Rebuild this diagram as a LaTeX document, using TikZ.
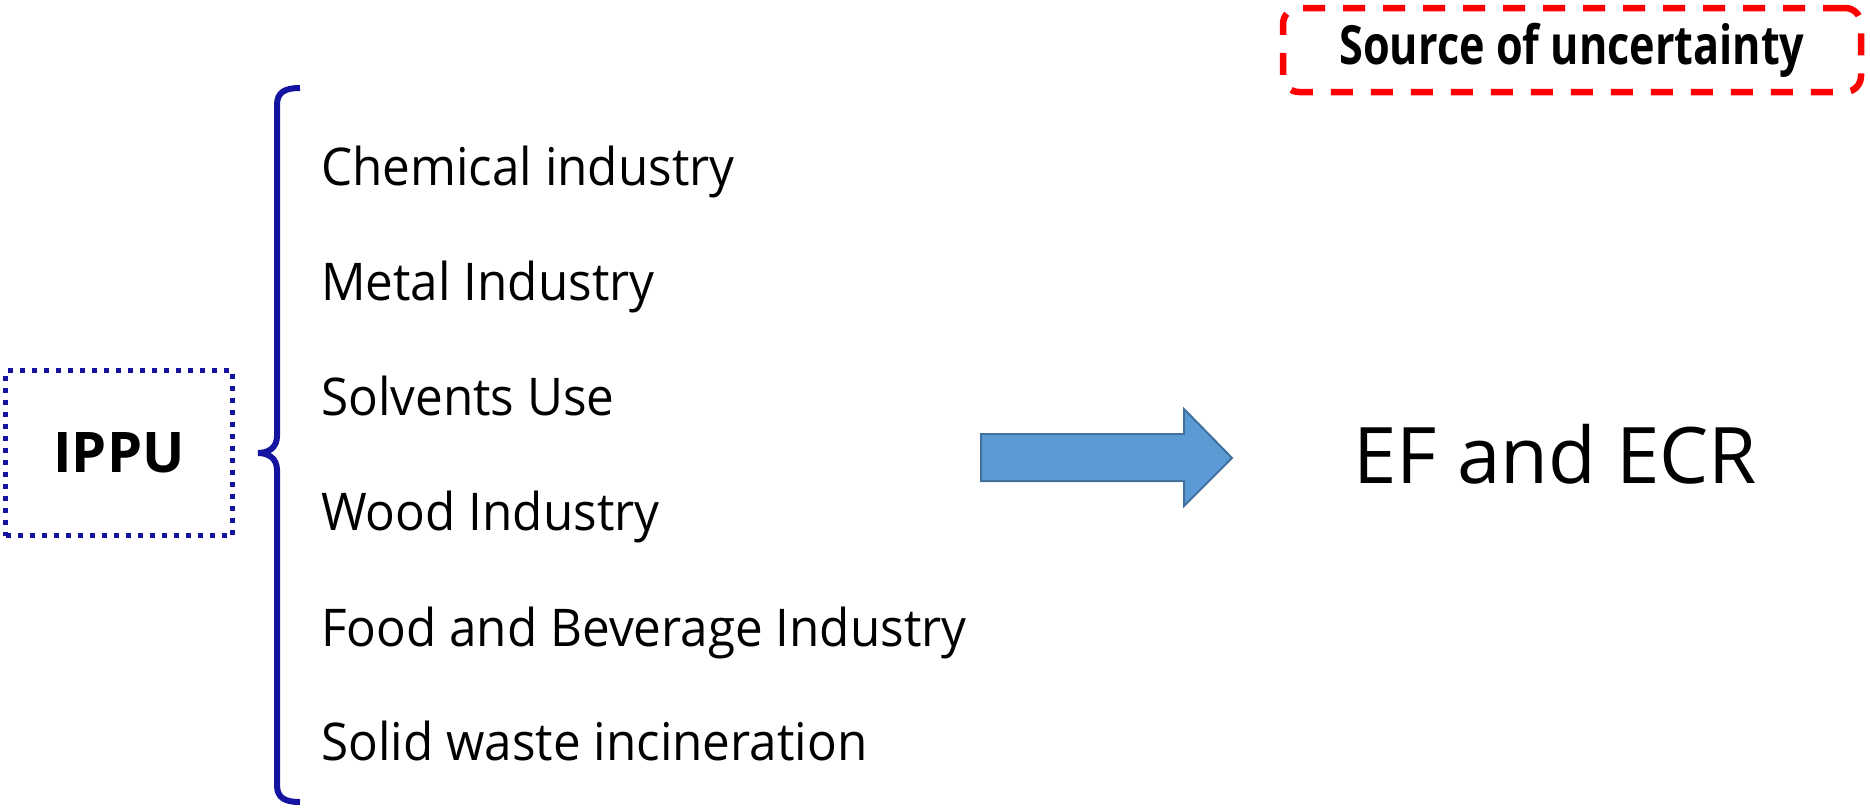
\documentclass[tikz,border=0pt]{standalone}
\usepackage{fontspec}
\setmainfont{Open Sans}
\newfontfamily\itemfont[FakeStretch=0.95]{Open Sans}
\newfontfamily\tagfont[FakeStretch=0.8]{Open Sans}
\definecolor{navy}{RGB}{20,20,160}
\definecolor{arrowfill}{RGB}{91,155,213}
\definecolor{arrowline}{RGB}{65,113,156}
\tikzset{item/.style={anchor=base west,inner sep=0pt,font=\itemfont\fontsize{52}{60}\selectfont}}
\begin{document}
\begin{tikzpicture}[x=1pt,y=-1pt]
\useasboundingbox (0,0) rectangle (1870,807);
\node[draw=navy,line width=5pt,dash pattern=on 5pt off 7pt,minimum width=227pt,minimum height=165pt,font=\bfseries\fontsize{56}{64}\selectfont](ippu) at (119,453){IPPU};
\draw[navy,line width=6pt](300,88) .. controls (285,88) and (277,92) .. (277,105)--(277,436) .. controls (277,448) and (268,453) .. (258,453) .. controls (268,453) and (277,458) .. (277,470)--(277,785) .. controls (277,798) and (285,802) .. (300,802);
\node[item](chem) at (321,185){Chemical industry};
\node[item](metal) at (321,300){Metal Industry};
\node[item](solv) at (321,415){Solvents Use};
\node[item](wood) at (321,530){Wood Industry};
\node[item](food) at (321,646){Food and Beverage Industry};
\node[item](solid) at (321,760){Solid waste incineration};
\draw[arrowline,fill=arrowfill,line width=2pt](981,434)--(1184,434)--(1184,409)--(1232,458)--(1184,506)--(1184,481)--(981,481)--cycle;
\node[anchor=base west,inner sep=0pt,font=\fontsize{78}{90}\selectfont](ef) at (1353,483){EF and ECR};
\node[draw=red,line width=6.5pt,dash pattern=on 22pt off 18pt,rounded corners=16pt,minimum width=578pt,minimum height=84pt,font=\tagfont\bfseries\fontsize{54}{60}\selectfont](src) at (1572,50){Source of uncertainty};
\end{tikzpicture}
\end{document}
